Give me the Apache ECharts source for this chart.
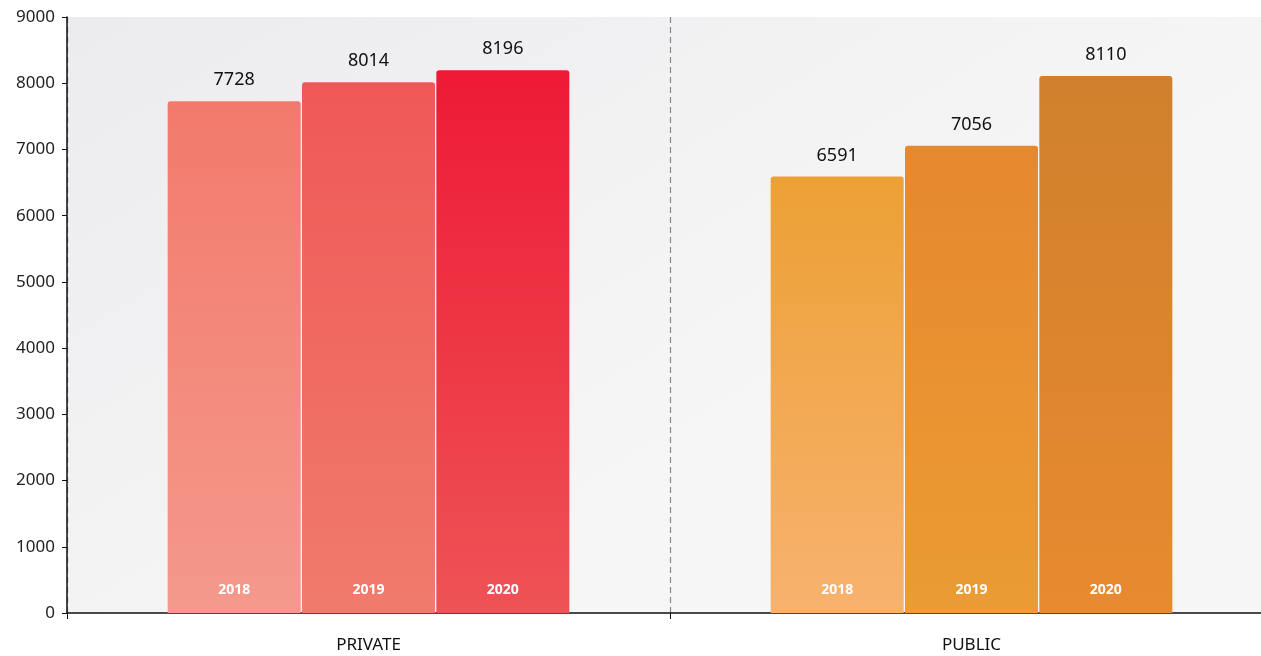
<!DOCTYPE html>
<html>
<head>
<meta charset="utf-8">
<style>
    html, body { margin: 0; padding: 0; background: #fff; }
    #bar { width: 1261px; height: 656px; }
</style>
<script src="https://cdn.jsdelivr.net/npm/echarts@6/dist/echarts.min.js"></script>
</head>
<body>
<div id="bar"></div>
<script>
// 数据
var categories = ['PRIVATE', 'PUBLIC'];
var years = ['2018', '2019', '2020'];
var values2018 = [7728, 6591];
var values2019 = [8014, 7056];
var values2020 = [8196, 8110];
var yTicks = [0, 1000, 2000, 3000, 4000, 5000, 6000, 7000, 8000, 9000];

// 每个柱子的渐变色 [顶部, 底部]
var barColors = {
    '2018': [['#f27a6c', '#f4998c'], ['#eda035', '#f7b26e']],
    '2019': [['#f05857', '#f07b6c'], ['#e6882f', '#eb9c33']],
    '2020': [['#ee1a35', '#ee5356'], ['#d0802c', '#e88a30']]
};

function grad(c) {
    return new echarts.graphic.LinearGradient(0, 0, 0, 1, [
        { offset: 0, color: c[0] },
        { offset: 1, color: c[1] }
    ]);
}

// 柱状图模块
(function() {
    var myChart = echarts.init(document.querySelector('#bar'));
    var allValues = [values2018, values2019, values2020];

    // 柱子 + 顶部数值
    var barSeries = years.map(function(year, i) {
        return {
            name: year,
            type: 'bar',
            barWidth: 133,
            barGap: '1%',
            data: allValues[i].map(function(v, j) {
                return {
                    value: v,
                    itemStyle: {
                        color: grad(barColors[year][j]),
                        borderRadius: [3, 3, 0, 0]
                    }
                };
            }),
            label: {
                show: true,
                position: 'top',
                distance: 12,
                color: '#111',
                fontSize: 18,
                fontFamily: 'Noto Sans'
            }
        };
    });

    // 柱内底部的年份（叠在第二条隐藏的x轴上）
    var yearSeries = years.map(function(year, i) {
        return {
            name: year + '-year',
            type: 'bar',
            xAxisIndex: 1,
            barWidth: 133,
            barGap: '1%',
            silent: true,
            z: 5,
            itemStyle: { color: 'rgba(0,0,0,0)' },
            data: allValues[i],
            label: {
                show: true,
                position: 'insideBottom',
                distance: 16,
                formatter: year,
                color: '#fff',
                fontSize: 14,
                fontWeight: 'bold',
                fontFamily: 'Noto Sans'
            }
        };
    });

    var option = {
        animation: false,
        grid: {
            left: 67,
            top: 17,
            width: 1206,
            height: 596,
            outerBoundsMode: 'none',
            containLabel: false,
            show: true,
            borderWidth: 0,
            backgroundColor: new echarts.graphic.LinearGradient(0, 0, 0.3, 1, [
                { offset: 0, color: '#ececef' },
                { offset: 1, color: '#f6f6f6' }
            ])
        },
        xAxis: [{
            type: 'category',
            data: categories,
            axisLine: { lineStyle: { color: '#111', width: 1.5 } },
            axisTick: { show: true, length: 6, lineStyle: { color: '#111' } },
            axisLabel: {
                color: '#111',
                fontSize: 17,
                fontFamily: 'Noto Sans',
                margin: 24
            },
            splitLine: {
                show: true,
                lineStyle: { color: '#888', type: [6, 4], width: 1.2 }
            }
        }, {
            type: 'category',
            data: categories,
            show: false
        }],
        yAxis: {
            type: 'value',
            min: yTicks[0],
            max: yTicks[yTicks.length - 1],
            interval: 1000,
            axisLine: { show: true, lineStyle: { color: '#111', width: 1.5 } },
            axisTick: { show: true, length: 5, lineStyle: { color: '#111' } },
            axisLabel: {
                color: '#222',
                fontSize: 17,
                fontFamily: 'Noto Sans',
                margin: 12,
                formatter: function(v) { return String(v); }
            },
            splitLine: { show: false }
        },
        series: barSeries.concat(yearSeries)
    };

    myChart.setOption(option);
    window.addEventListener('resize', function() {
        myChart.resize();
    });
})();
</script>
</body>
</html>
